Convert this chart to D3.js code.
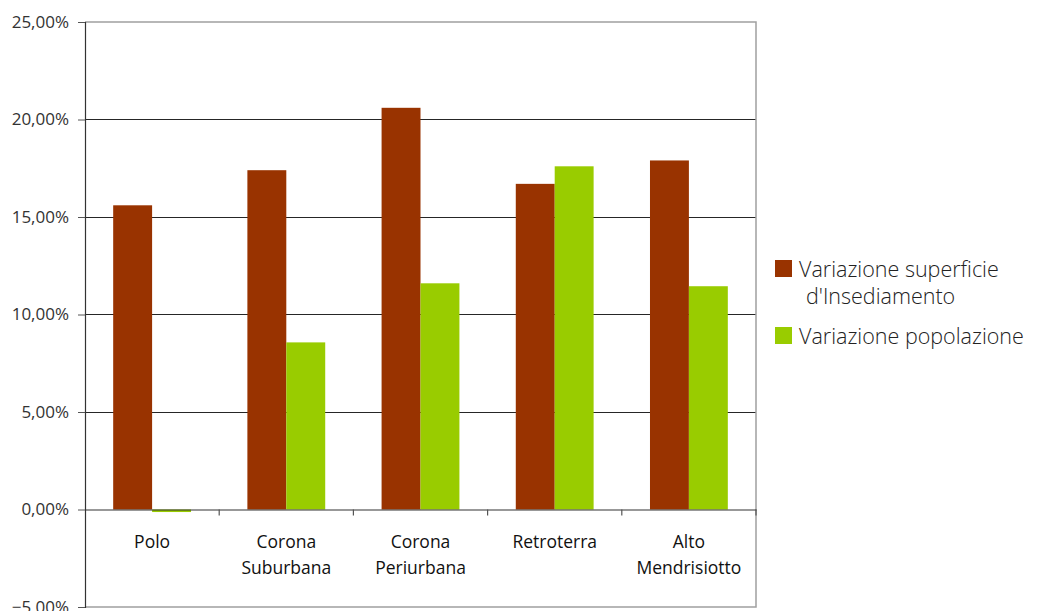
<!DOCTYPE html>
<html><head><meta charset="utf-8">
<script src="https://cdn.jsdelivr.net/npm/d3@7"></script>
<style>body{margin:0;background:#fff}svg{display:block}text{font-family:"Open Sans",Lato,sans-serif}</style>
</head><body><svg id="c" width="1039" height="611"></svg>
<script>
const categories = [["Polo"],["Corona","Suburbana"],["Corona","Periurbana"],["Retroterra"],["Alto","Mendrisiotto"]];
const seriesNames = [["Variazione superficie","d'Insediamento"],["Variazione popolazione"]];
const superficie = [15.6, 17.4, 20.6, 16.7, 17.9];
const popolazione = [-0.13, 8.57, 11.6, 17.6, 11.45];
const yTicks = [-5, 0, 5, 10, 15, 20, 25];
const colors = ["#993300", "#99cc00"];

const svg = d3.select("#c");
const L = 85, R = 756, T = 22, B = 607;
const x = d3.scaleBand().domain(d3.range(categories.length)).range([L, R]);
const y = d3.scaleLinear().domain([-5, 25]).range([B, T]);
const fmt = v => d3.format(".2f")(v).replace(".", ",") + "%";

// gridlines
svg.append("g").selectAll("line").data(yTicks.filter(t => t > 0 && t < 25)).join("line")
  .attr("x1", L).attr("x2", R).attr("y1", d => y(d)).attr("y2", d => y(d))
  .attr("stroke", "#262626").attr("stroke-width", 1).attr("shape-rendering", "crispEdges");

// plot border (top, right, bottom)
svg.append("path").attr("d", `M${L},${y(25)}H${R}V${y(-5)}H${L}`)
  .attr("fill", "none").attr("stroke", "#a0a0a0").attr("stroke-width", 1.5);

// bars
const bw = x.bandwidth() * 0.29;
const series = [superficie, popolazione];
series.forEach((vals, s) => {
  svg.append("g").selectAll("rect").data(vals).join("rect")
    .attr("x", (d, i) => x(i) + x.bandwidth() / 2 - bw + s * bw)
    .attr("width", bw)
    .attr("y", d => y(Math.max(0, d)))
    .attr("height", d => Math.abs(y(d) - y(0)))
    .attr("fill", colors[s]);
});

// y axis
const ya = svg.append("g").attr("transform", `translate(${L},0)`)
  .call(d3.axisLeft(y).tickValues(yTicks).tickFormat(fmt).tickSize(7).tickPadding(9));
ya.select(".domain").attr("stroke", "#333").attr("stroke-width", 1.2);
ya.selectAll(".tick line").attr("stroke", "#555");
ya.selectAll("text").attr("font-size", 17).attr("fill", "#333").attr("font-family", "'Open Sans', sans-serif");

// zero axis with category ticks
const xa = svg.append("g").attr("transform", `translate(0,${y(0)})`)
  .call(d3.axisBottom(x).tickValues([]).tickSizeOuter(0));
xa.select(".domain").attr("stroke", "#333").attr("stroke-width", 1.2);
svg.append("g").selectAll("line").data(d3.range(1, categories.length + 1)).join("line")
  .attr("x1", i => x.step() * i + L).attr("x2", i => x.step() * i + L)
  .attr("y1", y(0)).attr("y2", y(0) + 6).attr("stroke", "#555").attr("stroke-width", 1.2);

// category labels
const cl = svg.append("g").selectAll("text").data(categories).join("text")
  .attr("text-anchor", "middle").attr("font-size", 17.5).attr("fill", "#111")
  .attr("transform", (d, i) => `translate(${x(i) + x.bandwidth() / 2},${y(0) + 38})`);
cl.selectAll("tspan").data(d => d).join("tspan")
  .attr("x", 0).attr("dy", (d, j) => j === 0 ? 0 : 26).text(d => d);

// legend
const lg = svg.append("g");
const legY = [260, 327];
seriesNames.forEach((lines, s) => {
  lg.append("rect").attr("x", 775).attr("y", legY[s]).attr("width", 17).attr("height", 17).attr("fill", colors[s]);
  const t = lg.append("text").attr("x", 799).attr("y", legY[s] + 17).attr("font-size", 21.5).attr("fill", "#222").attr("font-weight", 300);
  lines.forEach((ln, j) => t.append("tspan").attr("x", j === 0 ? 799 : 806).attr("dy", j === 0 ? 0 : 27).text(ln));
});
</script></body></html>
